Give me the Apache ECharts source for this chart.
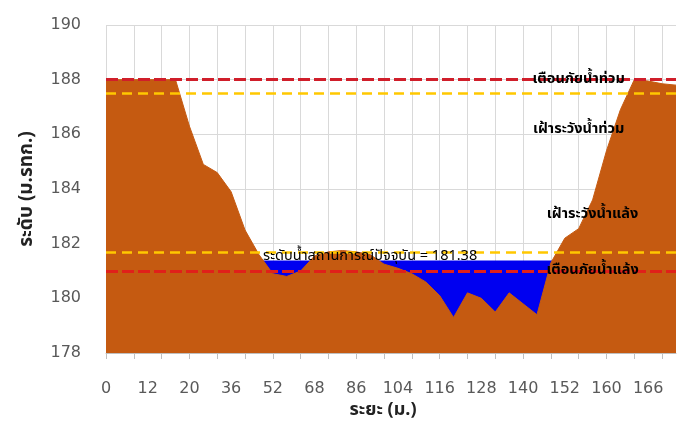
<!DOCTYPE html>
<html><head><meta charset="utf-8">
<script src="https://cdn.jsdelivr.net/npm/echarts@6/dist/echarts.min.js"></script>
<style>html,body{margin:0;padding:0;background:#fff}#c{width:687px;height:430px}</style>
</head><body><div id="c"></div>
<script>
var distances = [0,4,8,12,16,18,20,24,30,36,40,46,52,56,62,68,74,80,86,92,98,104,108,112,116,120,124,128,132,136,140,144,148,152,154,158,160,162,164,166,168,170];
var ground = [188,188,188,188,188,188,186.3,184.9,184.6,183.9,182.5,181.6,180.9,180.8,181.0,181.55,181.7,181.75,181.7,181.6,181.25,181.1,180.9,180.6,180.1,179.3,180.2,180.0,179.5,180.2,179.8,179.4,181.3,182.2,182.55,183.6,185.4,186.9,188,187.95,187.85,187.8];
var waterLevel = 181.38;
var waterStart = 10, waterEnd = 33;
var water = distances.map(function(d,i){ return (i>=waterStart && i<=waterEnd) ? waterLevel : null; });
var floodWarn = 188, floodWatch = 187.5, droughtWatch = 181.7, droughtWarn = 181;
var yTicks = {min:178, max:190, step:2};

var thaiFont = '"Noto Sans Thai","Tahoma","DejaVu Sans",sans-serif';
var chart = echarts.init(document.getElementById('c'));
function txt(idx, val, s, weight){
  return {name:s, coord:[idx, val], value:s, symbol:'circle', symbolSize:0,
    label:{show:true, position:'inside', formatter:s, color:'#000', fontSize:14.5, fontWeight:weight||'bold', fontFamily:thaiFont}};
}
chart.setOption({
  animation:false,
  grid:{left:106, right:11, top:25, bottom:77},
  xAxis:{type:'category', data:distances.map(String), boundaryGap:false,
    name:'ระยะ (ม.)', nameLocation:'middle', nameGap:47,
    nameTextStyle:{color:'#222', fontSize:18, fontWeight:'bold', fontFamily:thaiFont, padding:[0,16,0,0]},
    axisLine:{lineStyle:{color:'#BFBFBF', width:1}},
    axisTick:{interval:1, length:6, lineStyle:{color:'#BFBFBF'}},
    axisLabel:{interval:2, color:'#595959', fontSize:16, fontFamily:'DejaVu Sans', margin:28},
    splitLine:{show:true, interval:1, lineStyle:{color:'#D9D9D9'}}
  },
  yAxis:{type:'value', min:yTicks.min, max:yTicks.max, interval:yTicks.step,
    name:'ระดับ (ม.รทก.)', nameLocation:'middle', nameGap:68, nameRotate:90,
    nameTextStyle:{color:'#222', fontSize:19, fontWeight:'bold', fontFamily:thaiFont},
    axisLine:{show:false}, axisTick:{show:false},
    axisLabel:{color:'#595959', fontSize:16, fontFamily:'DejaVu Sans', margin:25},
    splitLine:{lineStyle:{color:'#D9D9D9'}}
  },
  series:[
    {type:'line', name:'water', data:water, symbol:'none', z:2,
     lineStyle:{width:0}, areaStyle:{color:'#0000F0', opacity:1}},
    {type:'line', name:'ground', data:ground, symbol:'none', z:3,
     lineStyle:{width:1, color:'#C55A11'}, areaStyle:{color:'#C55A11', opacity:1}},
    {type:'line', name:'levels', data:[], z:5, symbol:'none',
     markLine:{silent:true, symbol:'none', label:{show:false},
       data:[
         {yAxis:floodWarn, lineStyle:{color:'#D01E2A', type:[12,4], width:3}},
         {yAxis:floodWatch, lineStyle:{color:'#FFC800', type:[10,6], width:2.5}},
         {yAxis:droughtWatch, lineStyle:{color:'#FFC800', type:[10,6], width:2.5}},
         {yAxis:droughtWarn, lineStyle:{color:'#E0201A', type:[12,4], width:3}}
       ]},
     markPoint:{silent:true, data:[
       txt(34, 188, 'เตือนภัยน้ำท่วม'),
       txt(34, 186.15, 'เฝ้าระวังน้ำท่วม'),
       txt(34.6, 183.05, 'เฝ้าระวังน้ำแล้ง'),
       txt(35, 181, 'เตือนภัยน้ำแล้ง'),
       txt(19.1, 181.5, 'ระดับน้ำสถานการณ์ปัจจุบัน = 181.38', 'normal')
     ]}
    }
  ]
});
</script></body></html>
